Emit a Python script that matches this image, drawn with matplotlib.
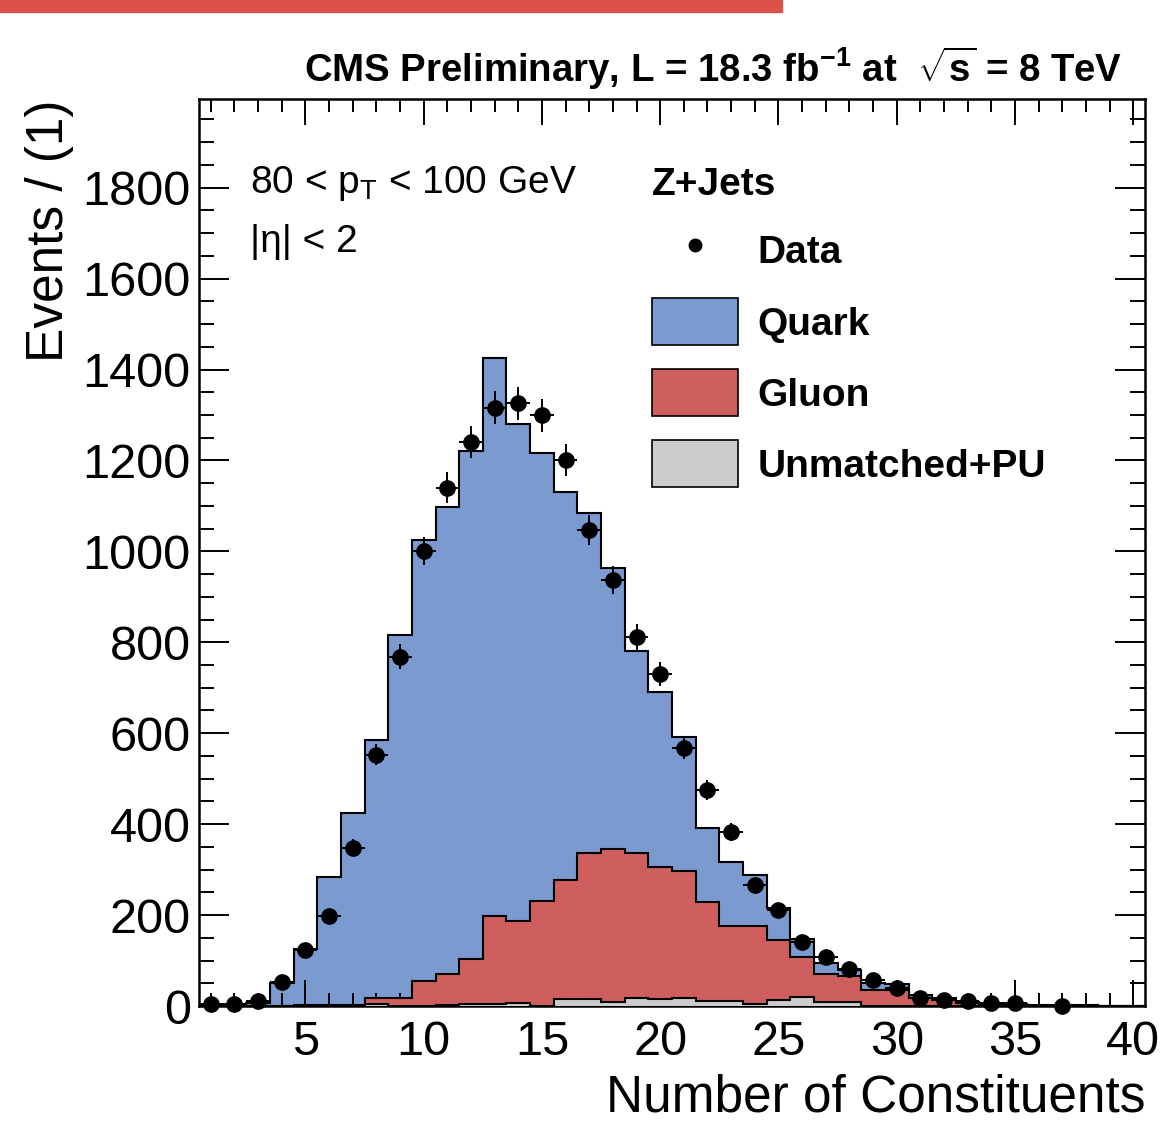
import numpy as np
import matplotlib
matplotlib.use('Agg')
import matplotlib.pyplot as plt
from matplotlib.patches import Rectangle, Patch
from matplotlib.lines import Line2D
from matplotlib.ticker import MultipleLocator

plt.rcParams['font.family'] = ['Liberation Sans', 'DejaVu Sans']
plt.rcParams['mathtext.fontset'] = 'custom'
plt.rcParams['mathtext.rm'] = 'Liberation Sans'
plt.rcParams['mathtext.it'] = 'Liberation Sans:italic'
plt.rcParams['mathtext.bf'] = 'Liberation Sans:bold'

# number of constituents, one bin per integer 1..40
n_const = np.arange(1, 41)

# stacked MC components (events per bin)
quark = [3, 3, 7, 50, 124, 281, 422, 567, 798, 971,
         1027, 1117, 1227, 1094, 987, 854, 749, 619, 445, 386,
         295, 164, 141, 112, 70, 40, 24, 14, 16, 14,
         7, 4, 2, 1, 3, 2, 3, 2, 1, 0]
gluon = [0, 0, 0, 1, 1, 2, 2, 14, 17, 54,
         69, 100, 194, 180, 229, 262, 321, 336, 319, 290,
         279, 217, 166, 171, 132, 87, 61, 56, 34, 34,
         17, 13, 7, 3, 1, 0, 0, 0, 0, 0]
unmatched = [0, 0, 0, 0, 1, 1, 1, 4, 1, 0,
             2, 4, 5, 6, 1, 15, 15, 9, 17, 15,
             18, 11, 10, 5, 13, 20, 9, 9, 1, 1,
             0, 0, 0, 0, 0, 0, 0, 0, 0, 0]

# data counts
data = [4, 5, 10, 53, 124, 198, 348, 553, 768, 1001,
        1140, 1240, 1316, 1326, 1299, 1201, 1047, 937, 812, 730,
        568, 475, 383, 266, 211, 141, 107, 82, 58, 39,
        18, 14, 12, 6, 6, 0, 1, 0, 0, 0]

c_quark = '#7b9ad0'
c_gluon = '#cf5e5f'
c_unm = '#cccccc'

fig = plt.figure(figsize=(11.66, 11.24), dpi=100)
ax = fig.add_axes([199/1166, 1 - 1006/1124, 946/1166, 907/1124])

# red brush stroke at the top
fig.patches.append(Rectangle((0, 1 - 12/1124), 782/1166, 12/1124,
                             transform=fig.transFigure, color='#db524b', zorder=0))

edges = np.arange(0.5, 41.5, 1.0)
quark = np.array(quark)
gluon = np.array(gluon)
unmatched = np.array(unmatched)
data = np.array(data)

ax.stairs(quark + gluon + unmatched, edges, baseline=0, fill=True,
          facecolor=c_quark, edgecolor='k', linewidth=1.5, zorder=1)
ax.stairs(gluon + unmatched, edges, baseline=0, fill=True,
          facecolor=c_gluon, edgecolor='k', linewidth=1.5, zorder=2)
ax.stairs(unmatched, edges, baseline=0, fill=True,
          facecolor=c_unm, edgecolor='k', linewidth=1.5, zorder=3)

m = data > 0
ax.errorbar(n_const[m], data[m], yerr=np.sqrt(data[m]), xerr=0.5, fmt='o',
            color='k', ms=11, elinewidth=1.4, capsize=0, zorder=5, clip_on=False)

ax.set_xlim(0.5, 40.5)
ax.set_ylim(0, 1995)
ax.xaxis.set_major_locator(MultipleLocator(5))
ax.xaxis.set_minor_locator(MultipleLocator(1))
ax.yaxis.set_major_locator(MultipleLocator(200))
ax.yaxis.set_minor_locator(MultipleLocator(50))
ax.tick_params(which='both', direction='in', top=True, right=True, width=1.4, labelsize=35)
ax.tick_params(axis='x', which='major', length=19, pad=10)
ax.tick_params(axis='x', which='minor', length=9.5)
ax.tick_params(axis='y', which='major', length=21.5, pad=6)
ax.tick_params(axis='y', which='minor', length=11)
for s in ax.spines.values():
    s.set_linewidth(1.8)
ax.set_xticks(range(5, 41, 5))

fig.text(50/1166, 1 - 100/1124, 'Events / (1)', rotation=90, ha='center', va='top', fontsize=37)
fig.text(1145/1166, 0.001, 'Number of Constituents', ha='right', va='bottom', fontsize=37)

fig.text(1122/1166, 1 - 82/1124,
         r'CMS Preliminary, L = 18.3 fb$^{\mathbf{-1}}$ at  $\sqrt{\mathbf{s}}$ = 8 TeV',
         ha='right', va='baseline', fontsize=27.6, fontweight='bold')

ax.text(0.054, 0.896, r'80 < p$_{\mathrm{T}}$ < 100 GeV', transform=ax.transAxes, fontsize=28,
        va='baseline')
ax.text(0.054, 0.831, '|η| < 2', transform=ax.transAxes, fontsize=28, va='baseline')

handles = [Line2D([], [], marker='o', ls='none', color='k', ms=9),
           Patch(facecolor=c_quark, edgecolor='k', lw=1.2),
           Patch(facecolor=c_gluon, edgecolor='k', lw=1.2),
           Patch(facecolor=c_unm, edgecolor='k', lw=1.2)]
labels = ['Data', 'Quark', 'Gluon', 'Unmatched+PU']
leg = ax.legend(handles, labels, title='Z+Jets', loc='upper left',
                bbox_to_anchor=(0.479, 0.925), frameon=False,
                prop={'size': 28, 'weight': 'bold'},
                title_fontproperties={'size': 28, 'weight': 'bold'},
                handlelength=2.2, handleheight=1.48, handletextpad=0.5,
                labelspacing=0.62, borderpad=0, borderaxespad=0)
leg._legend_box.align = 'left'

fig.savefig('out.png', dpi=100)
